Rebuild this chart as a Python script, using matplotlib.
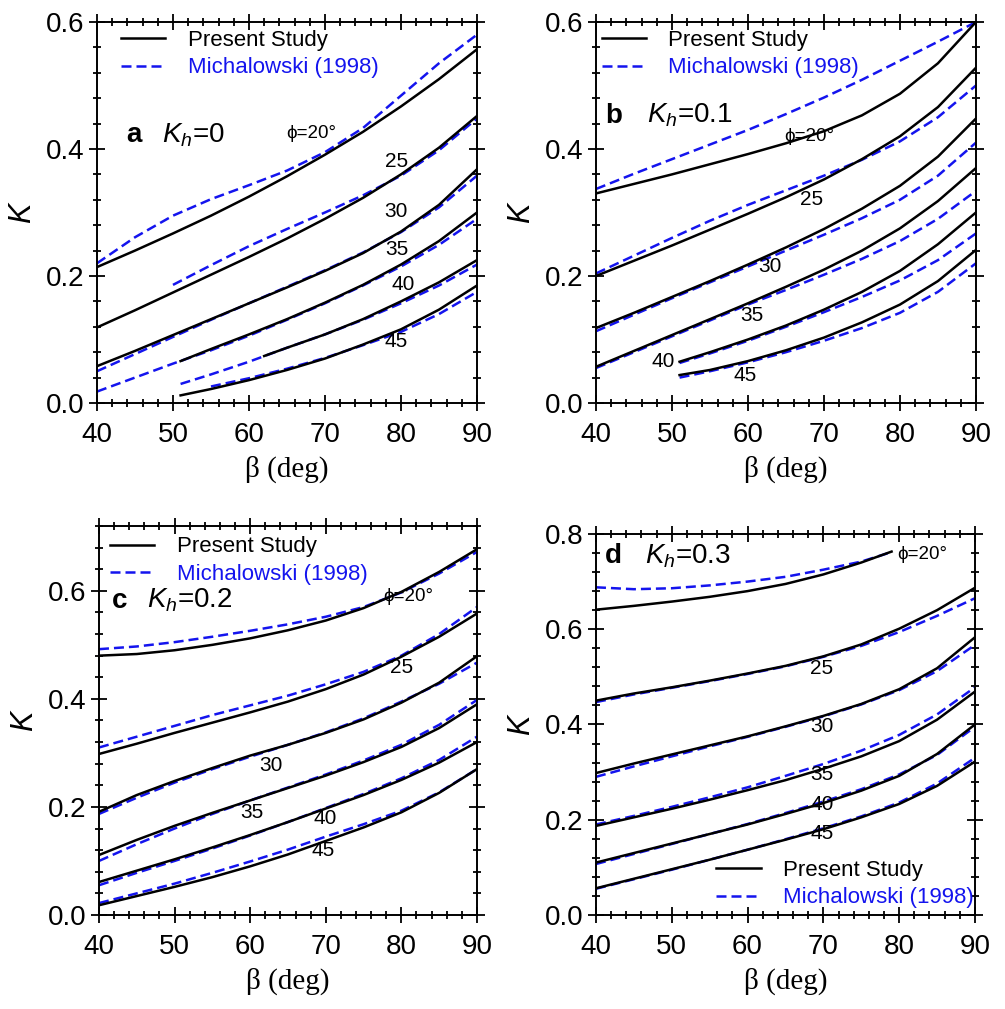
import matplotlib
matplotlib.use("Agg")
import matplotlib.pyplot as plt
from matplotlib.ticker import MultipleLocator, FormatStrFormatter

plt.rcParams['font.family'] = ['Liberation Sans', 'DejaVu Sans']
plt.rcParams['mathtext.fontset'] = 'custom'
plt.rcParams['mathtext.rm'] = 'Liberation Sans'
plt.rcParams['mathtext.it'] = 'Liberation Sans:italic'

BLUE = '#1414ee'

# beta grids (deg)
BETA = [40, 45, 50, 55, 60, 65, 70, 75, 80, 85, 90]
BETA_51 = [51, 55, 60, 65, 70, 75, 80, 85, 90]
BETA_62 = [62, 65, 70, 75, 80, 85, 90]
BETA_55 = [55, 60, 65, 70, 75, 80, 85, 90]
BETA_50 = [50, 55, 60, 65, 70, 75, 80, 85, 90]
BETA_D20 = [40, 45, 50, 55, 60, 65, 70, 75, 79]

# (a) Kh = 0
a_ps_20 = [0.214, 0.240, 0.267, 0.295, 0.325, 0.357, 0.391, 0.427, 0.467, 0.51, 0.557]
a_mi_20 = [0.220, 0.261, 0.295, 0.321, 0.343, 0.366, 0.395, 0.433, 0.484, 0.535, 0.58]
a_ps_25 = [0.119, 0.146, 0.174, 0.202, 0.230, 0.259, 0.29, 0.323, 0.36, 0.402, 0.452]
a_mi_25 = [0.186, 0.217, 0.247, 0.274, 0.300, 0.327, 0.358, 0.398, 0.448]
a_ps_30 = [0.058, 0.082, 0.107, 0.132, 0.157, 0.182, 0.208, 0.236, 0.27, 0.312, 0.368]
a_mi_30 = [0.050, 0.077, 0.104, 0.131, 0.157, 0.183, 0.209, 0.237, 0.269, 0.308, 0.358]
a_ps_35 = [0.066, 0.085, 0.108, 0.132, 0.158, 0.186, 0.218, 0.255, 0.30]
a_mi_35 = [0.018, 0.040, 0.062, 0.083, 0.106, 0.131, 0.157, 0.185, 0.215, 0.249, 0.29]
a_ps_40 = [0.074, 0.087, 0.108, 0.132, 0.160, 0.19, 0.225]
a_mi_40 = [0.030, 0.045, 0.065, 0.087, 0.108, 0.131, 0.157, 0.185, 0.218]
a_ps_45 = [0.012, 0.022, 0.036, 0.052, 0.070, 0.092, 0.116, 0.147, 0.185]
a_mi_45 = [0.026, 0.039, 0.054, 0.071, 0.091, 0.112, 0.14, 0.175]

# (b) Kh = 0.1
b_ps_20 = [0.330, 0.345, 0.360, 0.376, 0.392, 0.409, 0.428, 0.453, 0.487, 0.535, 0.60]
b_mi_20 = [0.337, 0.361, 0.384, 0.407, 0.43, 0.455, 0.481, 0.509, 0.539, 0.569, 0.60]
b_ps_25 = [0.20, 0.224, 0.248, 0.273, 0.298, 0.324, 0.352, 0.384, 0.42, 0.466, 0.528]
b_mi_25 = [0.204, 0.232, 0.26, 0.287, 0.312, 0.335, 0.358, 0.383, 0.412, 0.45, 0.50]
b_ps_30 = [0.118, 0.142, 0.167, 0.192, 0.218, 0.245, 0.274, 0.306, 0.342, 0.388, 0.448]
b_mi_30 = [0.113, 0.139, 0.165, 0.19, 0.215, 0.24, 0.265, 0.291, 0.32, 0.358, 0.41]
b_ps_35 = [0.057, 0.082, 0.107, 0.132, 0.157, 0.183, 0.21, 0.24, 0.275, 0.318, 0.37]
b_mi_35 = [0.055, 0.08, 0.105, 0.13, 0.155, 0.178, 0.202, 0.227, 0.255, 0.29, 0.334]
b_ps_40 = [0.065, 0.08, 0.10, 0.122, 0.147, 0.175, 0.208, 0.25, 0.30]
b_mi_40 = [0.063, 0.078, 0.098, 0.12, 0.143, 0.167, 0.193, 0.225, 0.267]
b_ps_45 = [0.044, 0.052, 0.066, 0.083, 0.103, 0.127, 0.155, 0.192, 0.241]
b_mi_45 = [0.040, 0.050, 0.064, 0.080, 0.098, 0.118, 0.142, 0.175, 0.22]

# (c) Kh = 0.2
c_ps_20 = [0.48, 0.483, 0.49, 0.50, 0.512, 0.527, 0.545, 0.568, 0.598, 0.635, 0.677]
c_mi_20 = [0.492, 0.497, 0.505, 0.515, 0.526, 0.538, 0.552, 0.57, 0.597, 0.632, 0.672]
c_ps_25 = [0.298, 0.317, 0.337, 0.356, 0.375, 0.395, 0.418, 0.445, 0.478, 0.515, 0.558]
c_mi_25 = [0.31, 0.33, 0.35, 0.37, 0.388, 0.406, 0.427, 0.45, 0.48, 0.52, 0.57]
c_ps_30 = [0.191, 0.222, 0.248, 0.272, 0.295, 0.315, 0.337, 0.362, 0.393, 0.43, 0.479]
c_mi_30 = [0.187, 0.217, 0.245, 0.27, 0.293, 0.315, 0.338, 0.364, 0.395, 0.428, 0.467]
c_ps_35 = [0.111, 0.139, 0.165, 0.189, 0.212, 0.235, 0.258, 0.283, 0.311, 0.346, 0.39]
c_mi_35 = [0.10, 0.131, 0.16, 0.187, 0.212, 0.236, 0.26, 0.286, 0.315, 0.352, 0.398]
c_ps_40 = [0.061, 0.082, 0.103, 0.125, 0.148, 0.172, 0.197, 0.222, 0.25, 0.282, 0.32]
c_mi_40 = [0.055, 0.078, 0.10, 0.123, 0.147, 0.172, 0.198, 0.224, 0.253, 0.287, 0.33]
c_ps_45 = [0.018, 0.035, 0.052, 0.07, 0.09, 0.112, 0.137, 0.162, 0.19, 0.226, 0.27]
c_mi_45 = [0.022, 0.04, 0.058, 0.078, 0.099, 0.121, 0.145, 0.168, 0.193, 0.227, 0.27]

# (d) Kh = 0.3
d_ps_20 = [0.641, 0.649, 0.658, 0.668, 0.68, 0.695, 0.715, 0.74, 0.763]
d_mi_20 = [0.688, 0.684, 0.686, 0.692, 0.70, 0.71, 0.725, 0.742, 0.762]
d_ps_25 = [0.45, 0.465, 0.478, 0.492, 0.507, 0.523, 0.543, 0.568, 0.601, 0.64, 0.687]
d_mi_25 = [0.447, 0.463, 0.477, 0.491, 0.506, 0.522, 0.542, 0.565, 0.594, 0.628, 0.665]
d_ps_30 = [0.298, 0.318, 0.337, 0.356, 0.375, 0.396, 0.418, 0.443, 0.474, 0.518, 0.583]
d_mi_30 = [0.29, 0.312, 0.333, 0.354, 0.374, 0.395, 0.417, 0.442, 0.472, 0.512, 0.567]
d_ps_35 = [0.187, 0.205, 0.223, 0.242, 0.262, 0.283, 0.307, 0.333, 0.365, 0.41, 0.469]
d_mi_35 = [0.19, 0.208, 0.227, 0.247, 0.268, 0.292, 0.317, 0.345, 0.378, 0.421, 0.478]
d_ps_40 = [0.11, 0.13, 0.15, 0.17, 0.19, 0.212, 0.235, 0.261, 0.292, 0.338, 0.40]
d_mi_40 = [0.107, 0.128, 0.149, 0.17, 0.191, 0.214, 0.238, 0.264, 0.295, 0.336, 0.395]
d_ps_45 = [0.056, 0.076, 0.096, 0.116, 0.137, 0.158, 0.18, 0.205, 0.233, 0.271, 0.322]
d_mi_45 = [0.055, 0.075, 0.095, 0.116, 0.137, 0.159, 0.182, 0.207, 0.236, 0.276, 0.33]

PHI_LABELS = ['\u03d5=20\u00b0', '25', '30', '35', '40', '45']

panels = [
    dict(letter='a', kh='0', ylim=0.6, rect=[0.0965, 0.6006, 0.3781, 0.3776],
         present=[(BETA, a_ps_20), (BETA, a_ps_25), (BETA, a_ps_30),
                  (BETA_51, a_ps_35), (BETA_62, a_ps_40), (BETA_51, a_ps_45)],
         micha=[(BETA, a_mi_20), (BETA_50, a_mi_25), (BETA, a_mi_30),
                (BETA, a_mi_35), (BETA_51, a_mi_40), (BETA_55, a_mi_45)],
         labels=[(68.2, 0.425), (79.4, 0.38), (79.4, 0.302), (79.4, 0.241), (80.3, 0.186), (79.4, 0.097)],
         tag=(43.9, 0.411), khx=48.6, leg=(0.063, 0.98)),
    dict(letter='b', kh='0.1', ylim=0.6, rect=[0.593, 0.6006, 0.3781, 0.3776],
         present=[(BETA, b_ps_20), (BETA, b_ps_25), (BETA, b_ps_30),
                  (BETA, b_ps_35), (BETA_51, b_ps_40), (BETA_51, b_ps_45)],
         micha=[(BETA, b_mi_20), (BETA, b_mi_25), (BETA, b_mi_30),
                (BETA, b_mi_35), (BETA_51, b_mi_40), (BETA_51, b_mi_45)],
         labels=[(68.0, 0.42), (68.4, 0.32), (62.9, 0.215), (60.5, 0.138), (48.9, 0.065), (59.6, 0.044)],
         tag=(41.2, 0.441), khx=46.7, leg=(0.015, 0.98)),
    dict(letter='c', kh='0.2', ylim=0.72, rect=[0.0985, 0.0932, 0.3761, 0.3855],
         present=[(BETA, c_ps_20), (BETA, c_ps_25), (BETA, c_ps_30),
                  (BETA, c_ps_35), (BETA, c_ps_40), (BETA, c_ps_45)],
         micha=[(BETA, c_mi_20), (BETA, c_mi_25), (BETA, c_mi_30),
                (BETA, c_mi_35), (BETA, c_mi_40), (BETA, c_mi_45)],
         labels=[(80.9, 0.59), (80.0, 0.458), (62.8, 0.277), (60.2, 0.19), (69.9, 0.178), (69.7, 0.12)],
         tag=(41.7, 0.569), khx=46.3, leg=(0.029, 0.973)),
    dict(letter='d', kh='0.3', ylim=0.8, rect=[0.593, 0.0932, 0.3771, 0.3776],
         present=[(BETA_D20, d_ps_20), (BETA, d_ps_25), (BETA, d_ps_30),
                  (BETA, d_ps_35), (BETA, d_ps_40), (BETA, d_ps_45)],
         micha=[(BETA_D20, d_mi_20), (BETA, d_mi_25), (BETA, d_mi_30),
                (BETA, d_mi_35), (BETA, d_mi_40), (BETA, d_mi_45)],
         labels=[(83.0, 0.757), (69.8, 0.518), (69.8, 0.396), (69.8, 0.294), (69.8, 0.231), (69.8, 0.172)],
         tag=(41.2, 0.739), khx=46.5, leg=(0.318, 0.145)),
]

fig = plt.figure(figsize=(10.05, 10.09), dpi=100)

for p in panels:
    ax = fig.add_axes(p['rect'])
    for (bx, ky) in p['micha']:
        ax.plot(bx, ky, color=BLUE, lw=1.8, ls=(0, (4, 2)), zorder=2)
    for (bx, ky) in p['present']:
        ax.plot(bx, ky, color='black', lw=1.8, zorder=3)
    for txt, (lx, ly) in zip(PHI_LABELS, p['labels']):
        fs = 13.5 if txt.startswith('\u03d5') else 15
        ax.text(lx, ly, txt, fontsize=fs, ha='center', va='center', zorder=4)
    ax.text(p['tag'][0], p['tag'][1], p['letter'], fontsize=20, fontweight='bold',
            ha='left', va='baseline')
    ax.text(p['khx'], p['tag'][1], '$K_h$=' + p['kh'], fontsize=20,
            ha='left', va='baseline')

    ax.set_xlim(40, 90)
    ax.set_ylim(0, p['ylim'])
    ax.xaxis.set_major_locator(MultipleLocator(10))
    ax.xaxis.set_minor_locator(MultipleLocator(2))
    ax.yaxis.set_major_locator(MultipleLocator(0.2))
    ax.yaxis.set_minor_locator(MultipleLocator(0.04))
    ax.yaxis.set_major_formatter(FormatStrFormatter('%.1f'))
    ax.tick_params(which='both', direction='inout', top=True, right=True,
                   labelsize=20, width=1.3)
    ax.tick_params(which='major', length=11)
    ax.tick_params(which='minor', length=6)
    ax.tick_params(axis='x', pad=8)
    for s in ax.spines.values():
        s.set_linewidth(1.4)
    ax.set_xlabel('\u03b2 (deg)', family='Liberation Serif', fontsize=21, labelpad=6)
    ax.set_ylabel('$K$', fontsize=22, labelpad=6)

    leg = ax.legend([ax.lines[len(p['micha'])], ax.lines[0]],
                    ['Present Study', 'Michalowski (1998)'],
                    loc='upper left', bbox_to_anchor=p['leg'], frameon=False,
                    fontsize=16, handlelength=2.0, handletextpad=1.0,
                    labelspacing=0.3, borderpad=0, borderaxespad=0)
    leg.get_texts()[1].set_color(BLUE)

fig.savefig('out.png', dpi=100)
